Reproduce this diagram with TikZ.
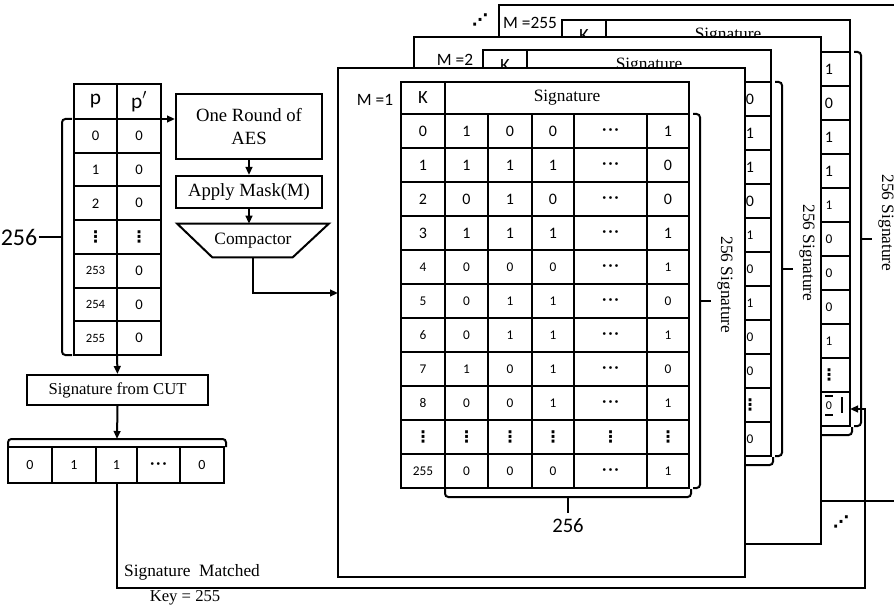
\documentclass[tikz,border=0pt]{standalone}
\usepackage{fontspec}
\setmainfont{Liberation Serif}
\newfontfamily\numfont{Carlito}
\newfontfamily\symfont{DejaVu Sans}
\usetikzlibrary{arrows.meta, positioning, calc}

\newcommand\pxu{0.75pt}
\newcommand\dotsh{{\symfont\fontsize{7}{7}\selectfont •\kern0.4pt•\kern0.4pt•}}
\newcommand\dotsv{{\symfont\bfseries\fontsize{12}{12}\selectfont ⋮}}
\newcommand\dotsd{{\symfont\bfseries\fontsize{12}{12}\selectfont ⋰}}
\newcommand\cellbig{\numfont\fontsize{12}{12}\selectfont}
\newcommand\cellsmall{\numfont\fontsize{10}{10}\selectfont}
% colonne della tabella delle firme
\def\colx{{0,44,87,131,173,246,288}}
% dati delle tabelle (M=1 completa, M=2 e M=255 solo l'ultima colonna)
\def\rowsa{{0,1,0,0,\dotsh,1},{1,1,1,1,\dotsh,0},{2,0,1,0,\dotsh,0},{3,1,1,1,\dotsh,1},
  {4,0,0,0,\dotsh,1},{5,0,1,1,\dotsh,0},{6,0,1,1,\dotsh,1},{7,1,0,1,\dotsh,0},
  {8,0,0,1,\dotsh,1},{\dotsv,\dotsv,\dotsv,\dotsv,\dotsv,\dotsv},{255,0,0,0,\dotsh,1}}
\def\rowsb{{,,,,,0},{,,,,,1},{,,,,,1},{,,,,,0},{,,,,,1},{,,,,,0},{,,,,,1},{,,,,,0},
  {,,,,,0},{,,,,,\dotsv},{,,,,,0}}
\def\rowsc{{,,,,,1},{,,,,,0},{,,,,,1},{,,,,,1},{,,,,,1},{,,,,,0},{,,,,,0},{,,,,,0},
  {,,,,,1},{,,,,,\dotsv},{,,,,,}}

\tikzset{
  % blocco del flusso
  box/.style={draw, line width=1.5pt, fill=white, align=center, inner sep=1pt,
    font=\fontsize{14}{17}\selectfont},
  % riquadro di una maschera
  frame/.style={draw, line width=1.5pt, fill=white, inner sep=0pt, outer sep=0pt,
    anchor=north west},
  % cella di tabella
  cell/.style={draw, line width=1.5pt, inner sep=0pt, outer sep=0pt, anchor=north west,
    minimum height=34*\pxu, font=\cellbig},
  hdr/.style={cell, minimum height=32*\pxu},
  lbl/.style={font=\numfont\fontsize{13}{13}\selectfont, inner sep=1pt},
  bracket/.style={line width=1.5pt, rounded corners=2.5pt},
  conn/.style={line width=1.5pt, -{Triangle[length=6pt, width=5pt]}},
}

\begin{document}
\begin{tikzpicture}[x=0.75pt, y=-0.75pt, node distance=0pt]
  \useasboundingbox (0,0) rectangle (894,610);
  \clip (0,0) rectangle (894,610);

  % pila delle maschere, dalla piu' lontana
  \foreach \L/\tx/\ty/\fx/\fy/\fh/\lx/\ly/\D in
      {255/562/20/499/5/496/530/23/c, 2/483/50/414/37/507/455/60/b, 1/401/82/338/68/509/375/100/a} {
    \expandafter\let\expandafter\rowlist\csname rows\D\endcsname
    \node[frame, minimum width=407*\pxu, minimum height=\fh*\pxu] (f\L) at (\fx,\fy) {};
    \node[lbl] (m\L) at (\lx,\ly) {M =\L};
    \node[hdr, minimum width=44*\pxu, font=\numfont\fontsize{14}{14}\selectfont] (k\L) at (\tx,\ty) {K};
    \node[hdr, minimum width=244*\pxu, font=\fontsize{13}{13}\selectfont] (s\L) at (\tx+44,\ty) {Signature};
    \foreach \r [count=\i from 0] in \rowlist {
      \ifnum\i<4 \def\cf{\cellbig}\else\def\cf{\cellsmall}\fi
      \foreach \v [count=\j] in \r {
        \pgfmathsetmacro\xa{\colx[\j-1]}
        \pgfmathsetmacro\xb{\colx[\j]}
        \node[cell, font=\cf, minimum width=(\xb-\xa)*\pxu] (c\L-\i-\j) at (\tx+\xa,\ty+32+34*\i) {\v};
      }
    }
    % parentesi: 256 firme, 256 bit
    \draw[bracket] (\tx+292,\ty+32) -- (\tx+299,\ty+32) -- (\tx+299,\ty+406) -- (\tx+292,\ty+406);
    \draw[line width=1.5pt] (\tx+299,\ty+219) -- (\tx+310,\ty+219);
    \node[rotate=-90, font=\fontsize{13}{14}\selectfont] (n\L) at (\tx+324,\ty+203) {256 Signature};
    \draw[bracket] (\tx+44,\ty+407) -- (\tx+44,\ty+415) -- (\tx+290,\ty+415) -- (\tx+290,\ty+407);
    \draw[line width=1.5pt] (\tx+167,\ty+415) -- (\tx+167,\ty+431);
  }
  \node[font=\numfont\fontsize{15.5}{16}\selectfont] (w1) at (568,526) {256};
  \node[inner sep=0pt] (d1) at (480,20) {\dotsd};
  \node[inner sep=0pt] (d2) at (841,522) {\dotsd};
  % cella trovata
  \node[font=\numfont\fontsize{9}{9}\selectfont] (z0) at (829,405.5) {0};
  \draw[line width=2.5*\pxu] (825,396) -- (833,396) (825,415) -- (833,415) (842,397) -- (842,413);

  % tabella p / p'
  \node[cell, minimum width=43*\pxu, minimum height=35*\pxu, font=\numfont\fontsize{16}{16}\selectfont] (p0) at (74,84) {p};
  \node[cell, minimum width=44*\pxu, minimum height=35*\pxu, font=\numfont\fontsize{16}{16}\selectfont] (q0) at (117,84) {p$'$};
  \foreach \a/\b [count=\i] in {0/0,1/0,2/0,\dotsv/\dotsv,253/0,254/0,255/0} {
    \ifnum\i>4 \def\cf{\numfont\fontsize{9.5}{10}\selectfont}\else\def\cf{\numfont\fontsize{11}{11}\selectfont}\fi
    \node[cell, font=\cf, minimum width=43*\pxu, minimum height=33.7*\pxu] (p\i) at (74,119+33.7*\i-33.7) {\a};
    \node[cell, font=\numfont\fontsize{11}{11}\selectfont, minimum width=44*\pxu, minimum height=33.7*\pxu] (q\i) at (117,119+33.7*\i-33.7) {\b};
  }
  \draw[bracket] (72,119) -- (62,119) -- (62,355) -- (72,355);
  \node[font=\numfont\fontsize{18}{18}\selectfont, inner sep=1pt] (n256) at (19,237) {256};
  \draw[line width=1.5pt] (n256.east) -- (62,237);

  % blocchi
  \node[box, minimum width=146*\pxu, minimum height=65*\pxu] (aes) at (249,126.5) {One Round of\\AES};
  \node[box, minimum width=146*\pxu, minimum height=32*\pxu] (mask) at (249,192) {Apply Mask(M)};
  \node[minimum width=151*\pxu, minimum height=33*\pxu, inner sep=0pt, font=\fontsize{13}{13}\selectfont] (cmp) at (253,240.5) {Compactor};
  \draw[line width=1.5pt] (cmp.north west) -- (cmp.north east) -- ([xshift=-36*\pxu]cmp.south east)
    -- ([xshift=35*\pxu]cmp.south west) -- cycle;
  \draw[conn] (q0.south east) -- (q0.south east -| aes.west);
  \draw[conn] (aes.south) -- (mask.north);
  \draw[conn] (mask.south) -- (mask.south |- cmp.north);
  \draw[conn] (cmp.south) |- ([yshift=29.5*\pxu]f1.west);

  % firma dal CUT
  \node[box, minimum width=181*\pxu, minimum height=30*\pxu, font=\fontsize{12.5}{13}\selectfont] (cut) at (117.5,390) {Signature from CUT};
  \draw[conn] (p7.south east) -- (cut.north);
  \foreach \v/\x/\w [count=\i] in {0/8/44, 1/52/44, 1/96/41, \dotsh/137/43, 0/180/44}
    \node[cell, font=\numfont\fontsize{10.5}{11}\selectfont, minimum width=\w*\pxu, minimum height=36*\pxu] (r\i) at (\x,447) {\v};
  \draw[bracket] (8,447) -- (8,439) -- (226,439) -- (226,447);
  \coordinate (sigtop) at (117,439);
  \draw[conn] (cut.south) -- (sigtop);

  % confronto riuscito
  \draw[conn] (r3.south) -- ++(0,105) -| ([xshift=15*\pxu]c255-10-6.east) -- (c255-10-6.east);
  \node[font=\fontsize{13}{13}\selectfont] (sm) at (192,572) {Signature\ \ Matched};
  \node[font=\fontsize{12.5}{13}\selectfont] (key) at (185,598) {Key = 255};
\end{tikzpicture}
\end{document}
